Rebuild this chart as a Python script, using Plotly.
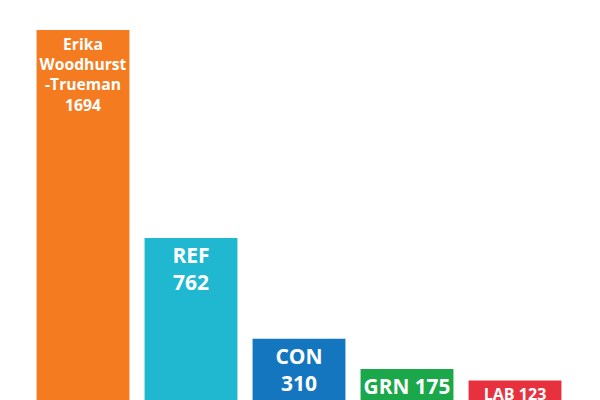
import plotly.graph_objects as go

parties = ["Erika Woodhurst-Trueman", "REF", "CON", "GRN", "LAB"]
labels = ["Erika<br>Woodhurst<br>-Trueman", "REF", "CON", "GRN", "LAB"]
votes = [1694, 762, 310, 175, 123]
colors = ["#F47B20", "#1FB8D0", "#1576C0", "#1AA84A", "#E8313F"]
breaks = ["<br>", "<br>", "<br>", " ", " "]

texts = [f"<b>{l}{b}{v}</b>" for l, b, v in zip(labels, breaks, votes)]

fig = go.Figure(go.Bar(
    x=parties, y=votes, marker_color=colors, marker_line_width=0,
    text=texts, textposition="inside", insidetextanchor="end",
    textangle=0, textfont=dict(family="Open Sans", size=21, color="white"),
))
fig.update_layout(
    width=600, height=400, margin=dict(l=21, r=39, t=0, b=0),
    plot_bgcolor="white", paper_bgcolor="white", bargap=0.14,
    showlegend=False,
)
fig.update_xaxes(visible=False)
fig.update_yaxes(visible=False, range=[0, 1793])
fig.write_html("out.html")
